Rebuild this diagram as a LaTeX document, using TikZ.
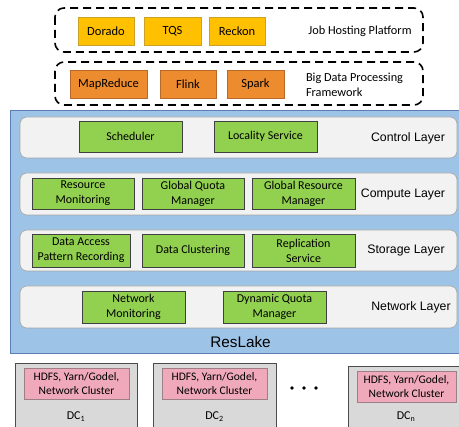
\documentclass[tikz,border=0pt]{standalone}
\usepackage{fontspec}
\setmainfont{Carlito}
\newfontfamily\arialfont{Liberation Sans}
\definecolor{cyellow}{HTML}{FFC000}
\definecolor{cyellowd}{HTML}{C9A227}
\definecolor{corange}{HTML}{ED8B2F}
\definecolor{coranged}{HTML}{B8692A}
\definecolor{cgreen}{HTML}{92D050}
\definecolor{cblue}{HTML}{9DC3E6}
\definecolor{cblued}{HTML}{5B7FB5}
\definecolor{cpanel}{HTML}{F2F2F2}
\definecolor{cpaneld}{HTML}{A6A6A6}
\definecolor{cdc}{HTML}{D9D9D9}
\definecolor{cpink}{HTML}{EFA9BA}
\definecolor{cpinkd}{HTML}{9E7F87}
\begin{document}
\begin{tikzpicture}[x=1pt,y=-1pt,
  every node/.style={inner sep=0pt, outer sep=0pt},
  dashbox/.style={draw=black, line width=1.6pt, dash pattern=on 8pt off 5pt, rounded corners=9pt},
  ybox/.style={draw=cyellowd, fill=cyellow, line width=0.6pt, minimum height=28, font=\fontsize{12.5}{15}\selectfont},
  obox/.style={draw=coranged, fill=corange, line width=0.6pt, minimum height=28, font=\fontsize{12.5}{15}\selectfont},
  gbox/.style={draw=black!75, fill=cgreen, line width=0.8pt, align=center, font=\fontsize{12}{15}\selectfont},
  panel/.style={draw=cpaneld, fill=cpanel, line width=0.6pt, rounded corners=7pt},
  layerlabel/.style={font=\arialfont\fontsize{12.3}{14}\selectfont},
  dcbox/.style={draw=black!70, fill=cdc, line width=0.8pt},
  pbox/.style={draw=cpinkd, fill=cpink, line width=0.6pt, align=center, minimum height=31, font=\fontsize{11.5}{14}\selectfont},
  dclabel/.style={font=\fontsize{12}{14}\selectfont}
]
\useasboundingbox (0,0) rectangle (459,427);
\fill[white] (0,0) rectangle (459,427);

% Job hosting platform
\draw[dashbox] (55,8) rectangle (423,52);
\node[ybox, minimum width=56] (dorado) at (106,31) {Dorado};
\node[ybox, minimum width=57] (tqs) at (172.5,31) {TQS};
\node[ybox, minimum width=56] (reckon) at (237,31) {Reckon};
\node[font=\fontsize{12.3}{15}\selectfont] (jhp) at (360,31) {Job Hosting Platform};

% Big data processing framework
\draw[dashbox] (55,62) rectangle (423,105);
\node[obox, minimum width=77] (mapreduce) at (108.5,84) {MapReduce};
\node[obox, minimum width=56] (flink) at (188,84) {Flink};
\node[obox, minimum width=57] (spark) at (255.5,84) {Spark};
\node[anchor=west, align=left, font=\fontsize{12.3}{15}\selectfont] (bdpf) at (306,85) {Big Data Processing\\Framework};

% ResLake
\draw[draw=cblued, fill=cblue, line width=0.8pt] (10,110) rectangle (470,353);

\draw[panel] (20,117) rectangle (457,158);
\node[gbox, minimum width=103, minimum height=31] (sched) at (130.5,136.5) {Scheduler};
\node[gbox, minimum width=103, minimum height=31] (loc) at (265.5,136.5) {Locality Service};
\node[layerlabel] (ctrl) at (408,138) {Control Layer};

\draw[panel] (20,173) rectangle (457,215);
\node[gbox, minimum width=102, minimum height=31] (rm) at (83,193.5) {Resource\\Monitoring};
\node[gbox, minimum width=102, minimum height=31] (gqm) at (193,193.5) {Global Quota\\Manager};
\node[gbox, minimum width=103, minimum height=31] (grm) at (303.5,193.5) {Global Resource\\Manager};
\node[layerlabel] (comp) at (403,194) {Compute Layer};

\draw[panel] (20,230) rectangle (457,271);
\node[gbox, minimum width=98, minimum height=33] (dapr) at (81,250.5) {Data Access\\Pattern Recording};
\node[gbox, minimum width=102, minimum height=33] (dclu) at (193,250.5) {Data Clustering};
\node[gbox, minimum width=103, minimum height=33] (rep) at (303.5,250.5) {Replication\\Service};
\node[layerlabel] (stor) at (406,250) {Storage Layer};

\draw[panel] (20,286) rectangle (457,328);
\node[gbox, minimum width=103, minimum height=32] (nm) at (133.5,307) {Network\\Monitoring};
\node[gbox, minimum width=103, minimum height=32] (dqm) at (274.5,307) {Dynamic Quota\\Manager};
\node[layerlabel] (net) at (411,307) {Network Layer};

\node[font=\arialfont\fontsize{15.3}{17}\selectfont] (reslake) at (240.5,342) {ResLake};

% Data centres
\draw[dcbox] (15,363) rectangle (137,432);
\node[pbox, minimum width=105] (h1) at (76.5,383.5) {HDFS, Yarn/Godel,\\Network Cluster};
\node[dclabel] (dc1) at (76,417) {DC\textsubscript{1}};

\draw[dcbox] (153,363) rectangle (276,432);
\node[pbox, minimum width=105] (h2) at (214.5,383.5) {HDFS, Yarn/Godel,\\Network Cluster};
\node[dclabel] (dc2) at (214.5,417) {DC\textsubscript{2}};

\draw[dcbox] (348,366) rectangle (470,432);
\node[pbox, minimum width=99] (hn) at (406.5,386.5) {HDFS, Yarn/Godel,\\Network Cluster};
\node[dclabel] (dcn) at (406,417) {DC\textsubscript{n}};

\fill[black] (292,388) circle (1.8) (304,388) circle (1.8) (316,388) circle (1.8);
\end{tikzpicture}
\end{document}
